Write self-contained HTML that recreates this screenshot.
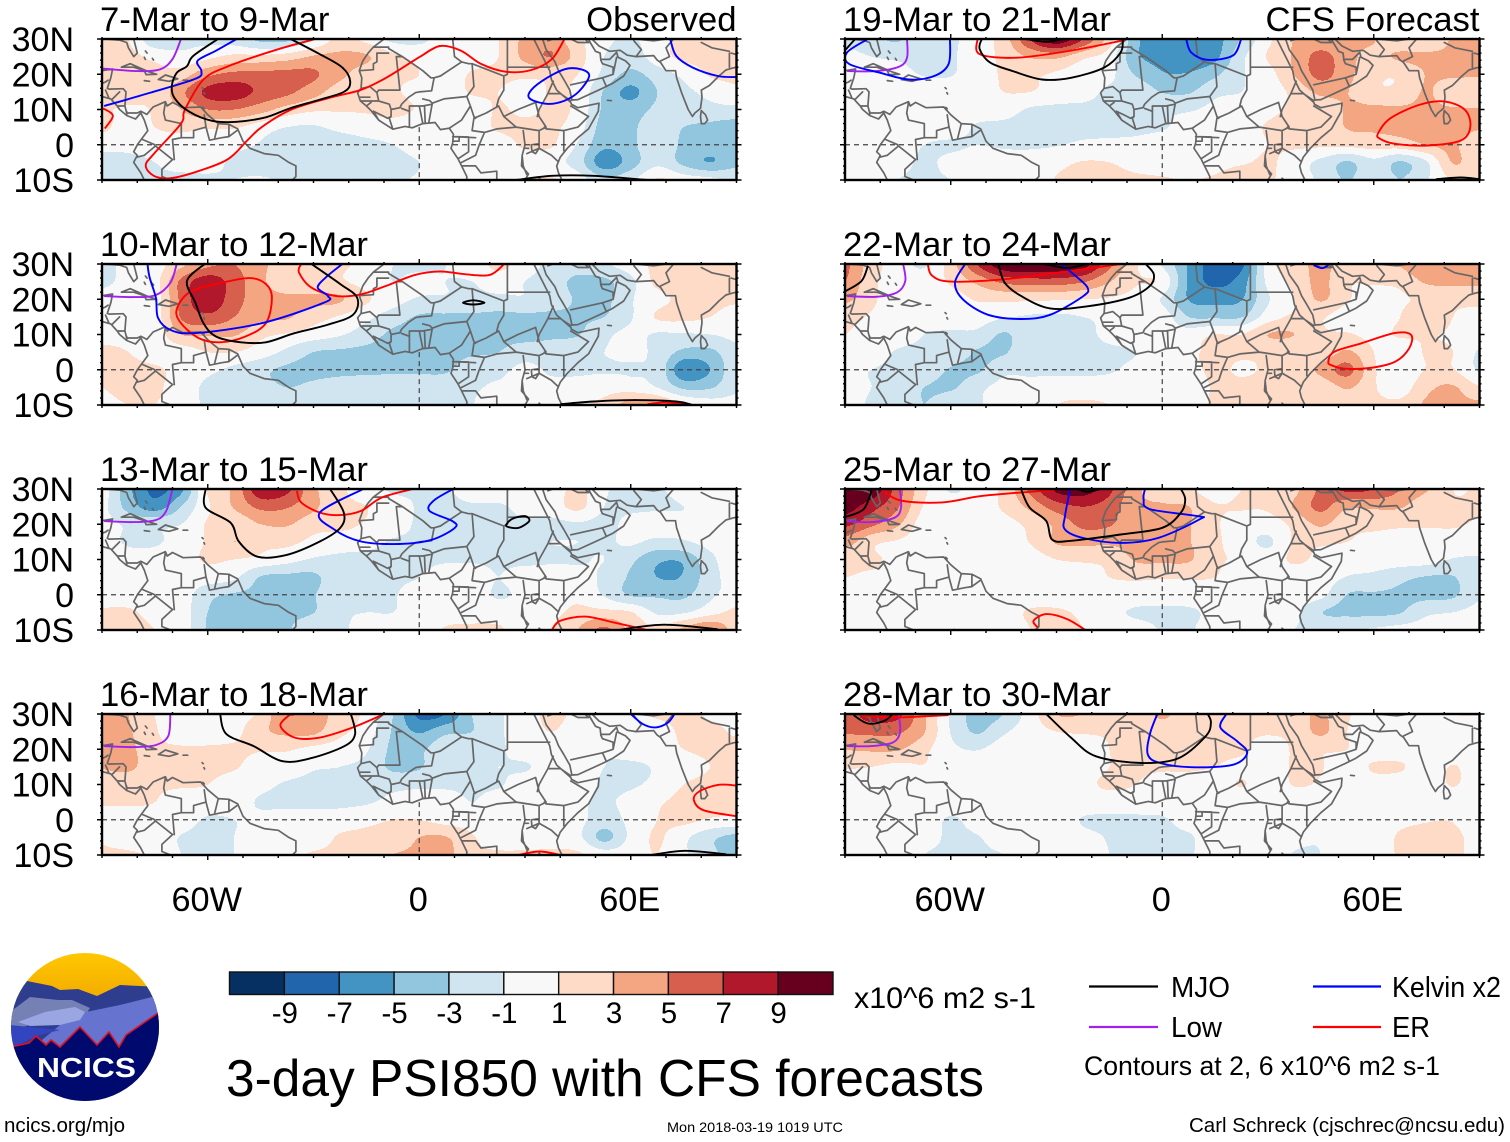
<!DOCTYPE html>
<html lang="en">
<head>
<meta charset="utf-8">
<title>3-day PSI850 with CFS forecasts</title>
<style>
html,body{margin:0;padding:0;background:#fff;}
svg{display:block;font-family:"Liberation Sans",Arial,sans-serif;}
</style>
</head>
<body>
<svg id="chart" xmlns="http://www.w3.org/2000/svg" width="1510" height="1142" viewBox="0 0 1510 1142">
  <rect x="0" y="0" width="1510" height="1142" fill="#fff"/>
  <g id="panels"></g>
  <g id="colorbar"></g>

  <text x="854" y="1008" font-size="29.5" textLength="182" lengthAdjust="spacingAndGlyphs">x10^6 m2 s-1</text>
  <text x="226" y="1096" font-size="51.5" textLength="758" lengthAdjust="spacingAndGlyphs">3-day PSI850 with CFS forecasts</text>

  <g>
    <line x1="1089" y1="986.5" x2="1158" y2="986.5" stroke="#000" stroke-width="2.2"/>
    <text x="1171" y="997" font-size="28.5" textLength="59" lengthAdjust="spacingAndGlyphs">MJO</text>
    <line x1="1313" y1="986.5" x2="1381" y2="986.5" stroke="#0000ff" stroke-width="2.2"/>
    <text x="1392" y="997" font-size="29" textLength="109" lengthAdjust="spacingAndGlyphs">Kelvin x2</text>
    <line x1="1089" y1="1027" x2="1158" y2="1027" stroke="#a020f0" stroke-width="2.2"/>
    <text x="1171" y="1037" font-size="28.5" textLength="51" lengthAdjust="spacingAndGlyphs">Low</text>
    <line x1="1313" y1="1027" x2="1381" y2="1027" stroke="#ff0000" stroke-width="2.2"/>
    <text x="1392" y="1037" font-size="28.5" textLength="38" lengthAdjust="spacingAndGlyphs">ER</text>
    <text x="1084" y="1075" font-size="26.5" textLength="356" lengthAdjust="spacingAndGlyphs">Contours at 2, 6 x10^6 m2 s-1</text>
  </g>

  <text x="4" y="1132" font-size="20.5" textLength="121" lengthAdjust="spacingAndGlyphs">ncics.org/mjo</text>
  <text x="667" y="1132" font-size="13.6" textLength="176" lengthAdjust="spacingAndGlyphs">Mon 2018-03-19 1019 UTC</text>
  <text x="1189" y="1132" font-size="20.5" textLength="316" lengthAdjust="spacingAndGlyphs">Carl Schreck (cjschrec@ncsu.edu)</text>

  <g>
    <defs>
      <clipPath id="logoClip"><ellipse cx="85" cy="1027" rx="74" ry="74"/></clipPath>
      <linearGradient id="logoSky" x1="0" y1="0" x2="0" y2="1"><stop offset="0" stop-color="#ffc800"/><stop offset="1" stop-color="#f2a900"/></linearGradient>
    </defs>
    <g clip-path="url(#logoClip)">
      <rect x="10" y="952" width="150" height="50" fill="url(#logoSky)"/>
      <polygon points="10,980 27,981 52,986 60,990 78,989 97,996 120,985 160,987 160,1102 10,1102" fill="#2f3d8e"/>
      <polygon points="10,1012 30,997 58,1000 72,1000 90,1008 86,1014 50,1020 10,1030" fill="#7581b4"/>
      <polygon points="86,1012 120,1005 152,997 160,1000 160,1050 60,1060 30,1050 60,1025" fill="#6674d0"/>
      <polygon points="10,1025 60,1030 36,1036 10,1050" fill="#3344c0"/>
      <polygon points="18,1022 45,1012 75,1007 85,1012 80,1020 60,1025 30,1026" fill="#9aa6e2"/>
      <polygon points="10,1047 29,1043 36,1036 46,1045 51,1040 60,1047 80,1027 97,1045 109,1032 119,1047 126,1035 158,1013 160,1013 160,1102 10,1102" fill="#000a6e"/>
      <polyline points="10,1047 29,1043 36,1036 46,1045 51,1040 60,1047 80,1027 97,1045 109,1032 119,1047 126,1035 158,1013" fill="none" stroke="#e01020" stroke-width="1.6"/>
    </g>
    <text x="37" y="1077" font-size="28" font-weight="bold" fill="#fff" textLength="99" lengthAdjust="spacingAndGlyphs">NCICS</text>
  </g>
</svg>

<script>
// ---------- Axis data ----------
const lonTickValues = [-60, 0, 60];
const lonTickLabels = ["60W", "0", "60E"];
const latTickValues = [30, 20, 10, 0, -10];
const latTickLabels = ["30N", "20N", "10N", "0", "10S"];
const colorLevels = [-9, -7, -5, -3, -1, 1, 3, 5, 7, 9];
const colorLevelLabels = ["-9", "-7", "-5", "-3", "-1", "1", "3", "5", "7", "9"];
const levelColors = ["#053061", "#2166ac", "#4393c3", "#92c5de", "#d1e5f0", "#f8f8f8", "#fddbc7", "#f4a582", "#d6604d", "#b2182b", "#67001f"];
const gridLons = [-90,-82.5,-75,-67.5,-60,-52.5,-45,-37.5,-30,-22.5,-15,-7.5,0,7.5,15,22.5,30,37.5,45,52.5,60,67.5,75,82.5,90];
const gridLats = [30,25,20,15,10,5,0,-5,-10];
const panelTitles = ["7-Mar to 9-Mar","10-Mar to 12-Mar","13-Mar to 15-Mar","16-Mar to 18-Mar","19-Mar to 21-Mar","22-Mar to 24-Mar","25-Mar to 27-Mar","28-Mar to 30-Mar"];

// ---------- PSI850 anomaly fields (x10^6 m2 s-1), rows = gridLats, cols = gridLons ----------
const psiMar07 = [
[1.5,1,-2.5,-1.5,-1.5,-2,-3.5,-3.5,-1,1.5,0.5,-1.5,-1.5,0,0,1,3.5,4,1.5,-0.5,-1.2,0,1.5,1.5,3],
[1.5,1.5,0.5,-0.5,0.5,1.5,1.5,2,3.2,3.5,3.2,1.5,0.5,0,0,1,3.5,5,2,-1,-2,0,1.5,1.5,2],
[3,1.5,1.5,2,4.5,5.5,5.5,5.6,5.3,3.5,2,1.2,1,0,1.2,1.5,1.5,1.5,1,-1.5,-3.5,-2,-0.5,1.2,1.5],
[1.5,1.5,1.5,4.5,7.5,8,6.5,5.5,3.8,2,1.5,1.2,0.5,-0.2,1.2,1,-0.2,1.2,0.5,-3.2,-5.5,-3,-1.5,-0.5,0.5],
[1.2,0.8,1.2,3,5,5,3.8,2.2,1.3,1.2,1.2,1.5,0.8,-0.2,-0.2,1.2,0.5,1.3,0.5,-3.4,-4,-2.5,-1.5,-1.5,-1.5],
[1.5,0,1,1.5,1.2,1.2,0,-1,-1.2,-0.5,0,0.2,0,0,0,1.3,1.5,1.3,0,-4,-3.5,-1.5,-3,-3.5,-4],
[-0.5,-0.5,0,0,0,-0.3,-1.2,-2,-2,-2,-1.5,-1,0,0,0,0,1.3,1.2,-1.2,-4.5,-3.5,-1.5,-3.4,-3.8,-4],
[-1.5,-1.5,-1,-0.3,0,-1.5,-2,-2.2,-2,-1.8,-1.5,-1.8,-1,0,0,0,0,-0.3,-2,-6.2,-4,-1.5,-3.5,-5,-3.5],
[-1.5,-1.5,-1.2,-1.5,-1.5,-1,-0.8,-1.3,-2,-1.5,-1.5,-1.2,-0.8,0,0,0,1,1.2,0,-2.5,-1.5,1.2,0,-0.5,-1.5]
];
const psiMar10 = [
[-1.5,-0.5,0,2.5,4.5,5,3.5,1.8,1.2,1.2,0.5,-1,-1.5,-1,0,1.5,0,-1.5,-2,-1.2,0,1.5,2,1.5,1.5],
[-1.5,-0.3,0.3,5.5,8.2,6,3.5,1.5,1.3,1.2,0.3,-1,-0.5,-1,-1,0,-1,-2,-3.5,-3.4,-1.5,1.5,1.5,1.5,1.5],
[0,0,0,5.5,8.5,5.8,4,3.5,3.4,3.2,1.3,-0.2,-1.2,-1.2,-1.5,-1.5,-1.2,-2,-3.2,-3.5,-1.2,0.3,1.5,1.5,1.3],
[0,-0.3,0,5.2,6.5,5,3.5,3.2,1.8,0.8,-0.5,-2,-3.2,-3.3,-3.4,-3.5,-3.4,-3.4,-3.2,-3,-1.2,1.2,1.5,1,0],
[0.5,0.3,-0.2,3,3.2,3.2,1.5,0.8,0,-0.8,-2,-3.4,-3.5,-3.3,-4.8,-3.5,-3.6,-3.3,-3.1,-1.5,-0.5,-1.2,-1.2,-1,-0.5],
[1.3,1,0,0,1,1,0,-1.5,-3,-3.3,-3.5,-3.6,-3.6,-3.6,-3.4,-3,-2,-2,-1.5,-1,-0.5,-1.5,-3.5,-3.5,-1.5],
[1.2,1.4,1.3,0.3,-0.5,-1.5,-2.5,-3.4,-3.6,-3.6,-3.5,-3.4,-3.4,-3.3,-1.8,-1.5,-0.5,-1.3,-1.3,-1.2,-1.2,-1.5,-6.5,-5,-1.5],
[1,1.3,1.2,0.3,-1.5,-2,-2.3,-3,-2.5,-1.8,-1.5,-1.5,-1.5,-1.5,-1.3,-0.6,-0.6,-0.5,-0.3,0.2,0,-1,-3.4,-3.2,-1.4],
[0.8,1,1,0.5,-1.5,-1.5,-1.5,-1.5,-1.5,-1.3,-1.2,-1.2,-1.3,-1.2,-1.1,1,0.5,-0.2,0.8,1.5,4,3.5,1,0,-0.2]
];
const psiMar13 = [
[0,-4.5,-7.5,-5.5,1.2,3.5,8.5,7.5,3.5,1.4,0,-1.3,-1.2,-1.2,0,0,0,0,1.5,-0.8,-1.2,-1.2,-0.5,-1,-0.5],
[-0.5,-3.8,-6,-3,0.7,3.2,5.5,5.2,3.4,1.5,1,0,-1.2,-1.5,-1.2,-1.2,-0.5,0,1.5,-1,-1.3,-1.3,-1,-0.8,-0.5],
[-0.3,-1.3,-1.4,-1,1.2,1.5,3,3.2,1.7,1.5,0.8,0,-1.3,-1.5,-1.3,-1.4,-1.2,-1.5,-1.2,-1.5,-0.5,0,-0.8,-0.8,-1],
[0,-1.3,-1.3,0,1.2,3,1.5,1.5,0.5,0,-0.3,-1.2,-1.3,-1.2,-1.3,-1.3,-1.3,-1,-1,-1.3,-0.7,-1.5,-1.2,-0.5,-0.5],
[0.3,0,0,0.3,1.2,1,0.5,-0.3,-1.2,-1.4,-1.5,-1.5,-1.4,-1.2,-1.2,-1.3,-1.5,-1.2,-1.2,-1,-2.5,-4.6,-4.6,-1.5,0],
[0,0,0,0,0,-0.6,-3.1,-3.4,-3.4,-1.5,-1.3,-1.2,-1,0,0,-1,0,-0.2,-0.3,-1.4,-3.3,-5,-4.8,-1.8,-0.2],
[0.3,0.3,0,0,-2.4,-3.2,-3.3,-3.3,-3.1,-1.3,-1.2,-1.1,-0.4,0,0,-1.2,-0.5,0,0.5,-1.2,-3.2,-3.3,-3.4,-1.4,-0.2],
[1.2,1.2,0.5,0,-3,-3.5,-3.5,-3.4,-3.05,-1.3,-1,-1,-0.2,0,0,0,0,0.5,1.5,1.6,1.1,-1.3,-1.2,0.3,1.5],
[1.4,1.5,1,0.2,-3.2,-3.5,-3.5,-3.2,-1.5,-1.2,-0.5,0,0,1.2,1.5,1.3,0,1,3,5.5,2.5,1.4,3.5,5.2,2]
];
const psiMar16 = [
[3.5,3,1,0,-1,0,1.5,5,4,2.2,0.5,-3,-7.5,-7,-3,-1.3,0,1.5,0.5,0,0.3,1.3,1.5,0.8,0.5],
[3.5,3.2,1.2,0,0,0.4,2.5,3.5,3.4,1.5,0,-3.2,-5.2,-3.5,-3,-1.3,0,1,0,0,0,0,1.4,1.4,0.8],
[3.6,3.5,1.5,1.2,1.2,1.3,1.2,1.2,0.5,0,-0.8,-3.4,-3.4,-1.5,-1.3,-1.3,0,0,0,-0.8,-0.3,0,1,1.4,1.5],
[3.2,3.5,1.5,1.3,1.4,1.2,0,0,-0.8,-1,-1.5,-3.4,-3.2,-1.3,-1.4,-1,-1.2,0,-0.3,-1,-1.3,-0.8,0,1,1.4],
[1.2,1.3,1.2,1.2,1,0,-0.5,-1.2,-1.4,-1.4,-1.4,-1.5,-1.4,-1.3,-1.3,-1.2,0,0,-0.3,-1.2,-1.2,-0.5,1,1.5,1.5],
[1.2,1.2,1,0,0,-0.2,-1.2,-1.5,-1.5,-1.4,-1.2,-0.5,0,0,-1,0,0,0,-0.7,-1.2,-0.5,0.7,1.5,1.6,1.5],
[0,0,0.2,-0.2,-1.2,-1,-0.5,0,0,0,0.6,1,1,0.3,0,0,0,0,-0.5,-1.8,-0.5,1,1.5,0.8,0.5],
[0.8,0,0,-1.1,-1.4,-1,0,0,0,1.2,1.3,1.4,3,3.1,1.2,0,0,0,-0.5,-3.6,-0.5,1.2,-0.5,-2.5,-3.6],
[1.2,1.3,0.5,-1,-1.2,-1,0,0.5,1.2,1.3,1.4,3,3.3,3.5,1.5,1.3,1.3,1.4,1.3,0,0.2,1,-0.7,-2.5,-3.8]
];
const psiMar19 = [
[-1.5,-2.5,-3.2,-1.5,-1.3,0,2,7,10.5,7,2,-4.5,-5.5,-6.5,-5.8,-2.8,0.5,3.1,3.5,3.3,3.1,1.5,1.5,3.2,3.2],
[-0.3,-1,-1.3,-1.4,-1.2,0,1.5,3.2,3.5,1.5,0,-4.6,-5.5,-6.5,-5.5,-1.5,1.2,3.3,5.7,3.6,2.5,3.3,3.4,3.2,3.1],
[0,0,-0.5,-1.1,-1.1,0,1.2,1.4,0.7,0,-0.5,-3.2,-4.8,-4.8,-3.4,-1.2,0.2,3.05,5.6,3.6,1.5,1.3,3.1,3.3,3.2],
[0,0,0,0,0,0,1,1,0.2,-0.3,-1.3,-1.4,-3.1,-3.2,-1.5,-1,0,1.5,3.5,3.05,1.4,1.5,3.2,1.5,1.5],
[0,0,0,0,0,0,-0.2,-1.2,-1.4,-1.4,-1.4,-1.4,-1.3,-1.2,-0.5,0,0.5,1.4,1.5,3.2,3.4,3.3,3.4,3.2,3.1],
[0,0,0,0,0,-1.2,-1.4,-1.5,-1.5,-1.4,-1.4,-1.4,-1.2,-0.2,0,0,1.2,1.5,1.5,3.1,3.3,3.5,3.5,3.6,3.2],
[0,0,0,-1,-1.3,-1,-1.2,-1.3,-1.1,-0.7,-0.6,-0.5,0,0,0,0,1,1.3,1.3,1.5,1.8,2,3,3.3,1.5],
[0,0,-0.3,-1.3,-0.5,0,-0.2,0,0.5,1.1,1,0.4,0,0,0,0.7,1.3,0,-1.5,-3.2,-1.5,-3.2,-1.2,3.1,1.4],
[-0.8,0,-1,-1.3,-1,-0.5,0,0,1.1,1.4,1.4,1.3,1.2,0.9,1.4,3,1.4,0,-1.4,-3.2,-1.4,-3,-1.2,1.2,1.3]
];
const psiMar22 = [
[5.5,2,0,-1.2,2,7,10.5,11,11,10,5.5,1.2,-1.2,-5.2,-8,-7.5,0,2,3.5,2,2.5,3.2,5,3.5,3.5],
[5,1.5,0.3,0,1.3,3.5,5.5,6,6,5.2,3.1,1.2,0.5,-5.2,-7.5,-6,-0.5,1.5,3.5,1.2,1.3,1.5,3.3,3.4,3.3],
[3.5,1.4,0,0,0,1.2,1.4,1.4,1.2,1,0.8,0.3,-1.2,-5.1,-5.6,-5.1,-1.2,1,3.2,1.2,0,0.7,1.4,1.5,1.5],
[1.5,0.8,0,0,0,0,-0.8,-1.2,-1.3,-1,-0.5,0,0,-3,-3.3,-3.1,0,1.3,1.2,0,0,1,3,1,0.5],
[1,0.5,0,-1,-1.3,-1.5,-3.2,-1.6,-1.5,-1.4,-0.6,0,0,0,1,1,3,3,1.3,1.2,0.5,1.2,1.2,0.7,0],
[0.7,0,-1.2,-1.3,-1.5,-3.2,-3.2,-1.5,-1.4,-1.3,-1.3,-1,0,0.7,1.3,1.2,1.3,1.2,1.5,3.3,1,-0.3,1.2,1,-1.2],
[-0.5,-1,-1.3,-1.4,-3.2,-3.3,-1.5,-1.4,-1.4,-1.4,-1.2,-0.5,0,0.5,1.3,0.8,1.2,1.4,3.5,5.6,1.3,-0.5,1.1,1.1,-1.2],
[-0.3,-1,-1.3,-3,-3.3,-1.5,-0.5,-0.3,0,0,0,0,0,0,1.2,1.4,1.4,1.2,1.5,3.2,1.2,0,2.5,3.2,1.2],
[-0.3,-1.2,-1.3,-3,-1.2,-1.1,-0.5,0,1,1.3,1,0.3,0,0,1.3,1.4,1.4,1,1.3,1.5,1.4,1.5,3.3,3.4,3.4]
];
const psiMar25 = [
[11,10.5,6,1.5,-1.2,0,1.5,5.5,9.5,10,7.5,3.5,2,1.2,0,1,1.2,2.5,5.5,7.5,7,5,3.2,1,1.2],
[10,7.8,5.2,0.8,0,0,1.3,3.5,6,7,6,3.5,3.2,3,1.2,1.2,1.3,3.2,5.5,3.3,3.4,3.2,1.5,1.2,1.2],
[7.5,5.5,3.3,0,0,0,0.3,1.5,3.5,5.5,5.2,3.5,3.3,3.1,1.3,0,0,1.5,3.3,1.5,1.5,1.3,1.2,1.2,0.8],
[4,1.5,0.8,0,0,0,0,1.1,3.2,3.5,3.4,3.5,3.3,3.1,1.4,0,-1.3,1.2,1.3,1,0.5,0.3,0,0,0],
[1.3,1.2,0.6,0,0,0,0,0,1,1.3,1.5,3.2,3.3,3.2,1.3,0.8,0,1.3,0.5,0,0,0,-0.2,-1.1,-1.2],
[1,0.8,0.8,0,0,0,0,0,0,0,1,1.3,1.2,1.2,1,0,0,0,0,-1.1,-1.5,-2.5,-3.1,-3.1,-1.3],
[0,0,0,0,0,0,0,0,0,0,0,0,-0.2,0,0,0,0,0,-0.5,-3.05,-3.2,-3.3,-3.5,-3.3,-1.2],
[0,0,0,0,0.6,0.8,0.3,1.2,1.4,0.5,-0.5,-1.2,-1.3,-1.3,-0.5,0,0,-0.5,-2.9,-3.4,-3.4,-3.1,-1.4,-1,-0.3],
[0,0,0,0,1,0.6,0,1,3,1,0,-0.3,-1.1,-1.2,0,0,0,-1,-1.2,-1.1,-0.8,-0.3,0,0.3,1.1]
];
const psiMar28 = [
[6,8,7.5,3.2,-1.3,-3.7,-3,0,3,3,2,1.2,3.5,1.3,1.2,1.2,1.2,2,3.3,1.2,0.3,0,0.5,1,1.1],
[5.2,5.5,5.3,3.1,-1.1,-3.2,-1.3,0,1,1.2,1.2,1.3,1.4,1.3,1.3,1.3,1.2,1.5,3.4,1,0,0,0,0,0],
[3.1,3.3,3.2,1.5,-0.5,-1.1,0,0,0,0,1,1.2,1.4,1.4,1.3,1.3,0,1.2,1.2,1,0,0,0,0,1],
[1.2,1,0.5,0.9,0,0,0,0,0,0,1,1.3,1.3,1.3,1,0.5,0,1.2,1.1,0,1.2,1.2,0,1.1,0],
[0,0,0,0,0,0,0,0,0,0.5,1.3,1,0,0,0,1.1,0,1.1,0.8,0,0.2,0,0,1.1,0],
[1,0,0,0,0,0,0,0,0,0,0,0,0,0,0,0,0,0,0,0,0,0,0,0,0],
[0,0,0,0,-1.2,-0.3,0,0,0,-1.1,-1.3,-1.3,-1.2,-0.3,0,0,0,0,0,0,0,0.6,0.9,0.9,0],
[0,0,0,-0.5,-1.2,-1.1,-0.2,0,0,-0.5,-1.1,-1.2,-1.3,-1.2,0,0,0,-0.5,-0.8,0,0,1.2,1.3,1.3,0.5],
[-1,0,0,-1,-1.1,-1.2,-1,0,0.8,0,-1,-1.1,-1.3,-1.2,0,0,0,-1.1,-1,0,0,1.2,1.3,1.3,0.5]
];
const psiFields = [psiMar07, psiMar10, psiMar13, psiMar16, psiMar19, psiMar22, psiMar25, psiMar28];

// ---------- Filtered-wave contours as [lon, lat] ----------
const mjoContours = [
 [[[-57.1,30],[-64.1,25.2],[-65.9,22.3],[-68.8,20.4],[-70.2,16.6],[-69.4,13.2],[-65.3,9.4],[-58.8,6.8],[-51.8,6.5],[-43.5,7.8],[-36.5,10.4],[-28.2,12.8],[-21.2,15.1],[-19.6,18],[-21.8,21.9],[-28.2,25.7],[-36.5,30]],[[27.6,-10],[37.6,-8.8],[49.4,-8.8],[64.7,-10]]],
 [[[-60.9,30],[-65.9,25.2],[-63.5,19],[-61.2,13.2],[-57.6,9.4],[-50.6,7.8],[-43.5,7.8],[-35.3,10.4],[-25.9,12.8],[-18.8,15.6],[-17.6,20.4],[-22.4,24.3],[-30.6,30]],[[12.4,19],[15.3,19.7],[18.5,19],[15.3,18.5],[12.4,19]],[[40,-9.8],[49.4,-9],[61.2,-8.6],[72.9,-9],[77.6,-10]]],
 [[[-60.6,30],[-60.6,24.7],[-53.5,20.4],[-51.2,15.1],[-45.9,10.8],[-37.6,11.3],[-28.2,15.1],[-22.4,19],[-21.4,23.3],[-25.3,30]],[[24.7,19.9],[26.5,21.6],[30,22.3],[31.2,20.9],[28.2,19],[25.3,19.2],[24.7,19.9]],[[56.5,-10],[69.4,-8.5],[84.7,-9.8]]],
 [[[-56.5,30],[-54.7,24.3],[-47,20.9],[-38.8,16.6],[-30.6,17.5],[-21.2,20.9],[-18.2,24.3],[-19.4,30]],[[65.9,-10],[75.3,-8.8],[87.1,-9.8]]],
 [[[-89.8,27],[-87.1,30]],[[-51.2,30],[-51.8,27.1],[-48.8,23.3],[-42.4,20.9],[-34.1,18.5],[-25.9,19],[-16.5,21.9],[-11.8,26.2],[-11.2,30]],[[-38.8,30],[-32.9,29.2],[-28.2,30]],[[77.6,-9.8],[84.7,-9.3],[90,-9.8]]],
 [[[-83.5,29.5],[-85.3,25.2],[-89.8,22.3]],[[-46.5,30],[-44.7,24.7],[-40,20.9],[-31.8,17.4],[-21.2,18],[-9.4,20.4],[-3.5,23.8],[-2.4,27.1],[-4.7,30]],[[-33.5,30],[-27.1,28.9],[-21.2,30]]],
 [[[-82.4,29.7],[-84.7,24.3],[-89.8,22.1]],[[-40,29.7],[-37.6,24.7],[-32.9,20.9],[-31.2,15.6],[-25.9,15.3],[-11.8,17.1],[0,19],[5.3,23.3],[6.5,27.1],[5.3,30]],[[-24.1,30],[-21.2,29.2],[-17.6,30]]],
 [[[-87.6,29.7],[-83.5,27.3],[-78.8,28.1],[-76.5,30]],[[-32.9,30],[-25.9,23.3],[-18.8,18],[-5.9,16.1],[4.7,17.5],[12.4,23.8],[13.8,27.6],[12.9,30]]]
];
const kelvinContours = [
 [[[-51.8,30],[-57.6,26.7],[-62.9,23.8],[-61.8,20.9],[-63.5,18.7],[-76.5,14.7],[-89.4,11]],[[31.2,14.7],[34.7,18],[41.2,21.4],[45.9,21.4],[48.2,19.5],[45.3,15.1],[41.2,12.5],[36.5,11.6],[31.8,12.8],[31.2,14.7]],[[71.2,30],[72.9,25.2],[77.6,21.9],[84.7,19.5],[90,19.2]]],
 [[[-77.1,30],[-76.5,26.2],[-74.7,20.4],[-74.1,14.7],[-70.6,11.3],[-63.5,10.4],[-44.7,13.2],[-27.1,19],[-25.9,20.9],[-28.8,23.3],[-26.5,26.2],[-21.8,30]]],
 [[[-15.9,30],[-28.2,23.3],[-24.1,18.5],[-16.5,15.1],[-5.9,14.4],[3.5,15.6],[10.1,19],[9.4,20.9],[2.9,23.8],[4.1,26.7],[9.6,30]]],
 [[[60,30],[63.5,27.1],[67.1,26.2],[70.6,27.6],[72.4,30]]],
 [[[-83.5,30],[-89.4,26.2],[-88.8,22.9],[-80,20.4],[-71.8,18.5],[-64.7,19.5],[-60.6,22.9],[-60.2,30]],[[6.8,30],[8.2,26.2],[12.9,24.1],[20,25.3],[22.4,30]]],
 [[[-55.9,30],[-58.8,24.7],[-56.5,19.9],[-49.4,15.6],[-40,14.4],[-31.8,15.6],[-22.4,20.9],[-21.2,23.3],[-24.7,26.7],[-28.8,30]],[[42.9,29.7],[45.3,28.8],[47.1,29.7]]],
 [[[-26.1,30],[-27.6,22.3],[-27.6,18.5],[-22.4,16.1],[-11.8,14.7],[-1.2,16.1],[10.6,21.4],[10,22.3],[-3.5,24.3],[-5.3,27.1],[-4.9,30]]],
 [[[-1.4,30],[-3.5,24.3],[-4.1,18.5],[-0.6,16.1],[8.2,14.9],[20,15.6],[24.1,19],[21.2,22.3],[16.5,26.2],[18.2,30]]]
];
const lowContours = [
 [[[-67.6,30],[-70,24.3],[-73.5,21.4],[-80,20.9],[-89.8,21.6]]],
 [[[-68.8,30],[-70.6,24.7],[-74.7,21.2],[-81.2,20.6],[-89.4,20.9]]],
 [[[-70,30],[-71.8,23.8],[-74.7,21.2],[-81.2,20.6],[-89.4,20.9]]],
 [[[-70.6,30],[-71.2,23.8],[-74.7,21.2],[-81.2,20.6],[-89.4,20.9]]],
 [[[-72.4,30],[-72.4,24.7],[-74.7,22.1],[-81.2,20.9],[-89.4,20.9]]],
 [[[-73.5,30],[-72.9,25.2],[-75.3,21.9],[-81.2,20.7],[-89.4,20.9]]],
 [[[-74.4,29.7],[-74.1,24.7],[-75.9,21.9],[-82.4,20.6],[-89.4,20.9]]],
 [[[-74.7,29.7],[-74.4,24.7],[-76.5,21.9],[-82.4,20.9],[-89.4,20.9]]]
];
const erContours = [
 [[[-29.4,30],[-40,27.1],[-54.1,22.3],[-61.2,18.5],[-66.5,9.9],[-67.6,6],[-75.3,-2.6],[-77.6,-5.9],[-75.3,-8.8],[-70.6,-9.5],[-62.4,-7.4],[-54.1,-4],[-48.8,1.2],[-44.7,5],[-36.5,9.9],[-25.9,13.2],[-16.5,15.6],[-9.4,19],[-1.2,24.1],[0.6,25.2],[5.9,28],[11.8,26.7],[17.6,22.9],[24.7,20.7],[31.8,21.2],[37.6,24.3],[41.2,30]],[[-89.7,10.3],[-87.3,8.9],[-87.1,7.5],[-89.2,4.6]]],
 [[[-68.8,17.1],[-65.3,21.9],[-57.6,24.3],[-48.2,26],[-43.5,24.3],[-41.8,20.4],[-43.5,13.2],[-49.4,9.4],[-56.5,7.8],[-62.4,8.9],[-67.6,13.2],[-68.8,17.1]],[[-33.5,30],[-34.1,27.6],[-30.6,23.3],[-23.5,20.9],[-16.5,21.4],[-9.4,23.8],[-1.2,26.9],[5.9,27.9],[12.9,27.1],[20,26.9],[24.1,30]],[[64.7,-9.8],[69.4,-9.3],[75.3,-9.8]]],
 [[[-34.7,29.5],[-33.5,26.2],[-28.2,23.3],[-22.4,22.6],[-16.5,23.8],[-10.6,27.6],[-1.8,30]],[[37.6,-10],[40,-7.4],[47.1,-6.2],[55.3,-7.9],[64.7,-10]]],
 [[[-10.6,29.7],[-18.8,26.2],[-28.2,23.3],[-35.3,23.3],[-39.4,26.7],[-36.5,30]],[[90,9.7],[84.7,9.9],[79.4,8],[77.9,5.6],[80.6,2.7],[90,1]],[[28.2,-10],[34.1,-9],[40,-10]]],
 [[[-52.4,30],[-51.8,25.7],[-41.2,24.7],[-25.9,26.7],[-10.6,29.7]],[[61.2,3.2],[64.7,7.5],[72.9,11.3],[80,12.3],[85.9,9.9],[87.4,5.1],[84.7,1.2],[75.3,-0.2],[65.9,0.3],[61.8,1.7],[61.2,3.2]]],
 [[[-66.5,30],[-65.3,26.7],[-60,25],[-44.7,25.7],[-27.1,27.9],[-11.8,30]],[[47.1,2.2],[48.8,5.1],[56.5,7.5],[65.9,10.4],[70.6,9.9],[70,6],[65.9,2.2],[58.8,0.5],[51.8,0.3],[48.2,1.2],[47.1,2.2]]],
 [[[-79.4,29.7],[-74.1,26.7],[-62.4,26.2],[-50.6,28.1],[-30.6,29.7]],[[-35.3,-9.3],[-36.5,-7.4],[-32.9,-5.5],[-27,-6.9],[-21.8,-10]]],
 [[[-85.9,29.7],[-76.5,29],[-60.6,29.7]]]
];

// ---------- Map outlines as [lon, lat] ----------
const coastlines = [
 [[-89,30],[-85,29.7],[-83,29],[-82.5,27.5],[-81,25],[-80,26],[-81,30]],
 [[-90,21],[-87,21.5],[-87.5,19],[-88.5,16],[-88,15.8],[-84,15.9],[-83.2,15],[-83.5,11],[-83,9],[-80,9],[-79,9.5],[-77.3,8.6],[-75.5,10.7],[-72,12.2],[-71.5,11],[-70,12],[-67,10.5],[-62,10.7],[-60,8.5],[-57,6],[-54,5.8],[-51.5,4.5],[-50,1],[-48,-1],[-44,-2.5],[-40,-3],[-37,-5],[-35,-6],[-35,-9],[-36,-10]],
 [[-90,13.7],[-87.5,13],[-85.7,11],[-85,10],[-83,8.3],[-80.5,7.3],[-79,9],[-78,7],[-77,4],[-78.5,2],[-80,0],[-81,-2],[-80,-3],[-81,-5],[-79,-8],[-78,-10]],
 [[-84.5,22],[-82,23],[-77,20.8],[-74.5,20],[-77.5,19.9],[-78,21],[-81,22],[-84.5,22]],
 [[-74,18.5],[-72,19.8],[-68.5,18.7],[-71,18],[-74,18.5]],
 [[-78,18.2],[-76.5,18]],
 [[-67,18.3],[-65.7,18.3]],
 [[-77.7,26.6],[-77.2,26]],[[-78,24.8],[-77.7,24.2]],[[-75.7,24.5],[-75.4,24]],
 [[-61.6,16.2],[-61.3,15.9]],[[-61.1,14.8],[-60.9,14.4]],[[-61.4,10.6],[-61,10.2]],
 [[-10,30],[-13,27.7],[-14.5,26],[-16,23.8],[-17,21],[-16.3,19],[-16.5,16],[-17.5,14.7],[-16.7,12.4],[-15,11],[-13.5,9.5],[-11.5,7],[-7.5,4.4],[-4,5.2],[-2,4.8],[1,6],[4.5,6.3],[6,4.3],[8.5,4.7],[9.7,3],[9.5,0.5],[9,-1],[11,-4],[12,-6],[13.5,-9],[13.5,-10]],
 [[32.5,30],[34,27],[35.5,24],[37,21],[37.5,18.5],[39,15.5],[43,12],[43.2,11.5],[45,10.5],[51,11.8],[50.8,9.5],[48,4.5],[45,2],[42,-1],[40,-3.5],[39,-6],[39.5,-8],[40.5,-10]],
 [[35,30],[36,27],[38.5,23.5],[39.5,21],[41,18.5],[42.7,15.5],[43.3,12.7],[45,12.8],[52,16],[55,17.5],[58,19.5],[59.8,22.5],[58.5,23.8],[56.4,24.8],[56,26.2],[54,24.2],[51.5,24.2],[51.3,26],[50,26.5],[48.5,29],[48,30]],
 [[49,30],[51,28],[54,26.5],[57,26.8],[59,25.4],[61.5,25],[66.5,25.3],[67.5,24],[68.5,23.3],[70,21],[72,21],[72.7,21],[73,19],[74.5,14.5],[76.3,10],[77.5,8],[78.2,9],[79.8,10.3],[80.2,13.5],[80,15.5],[82.3,16.8],[85,19.5],[87,21.2],[89,21.8],[90,22]],
 [[80,9.7],[81.2,8.5],[81.8,7],[81,6],[80,6],[79.8,8],[80,9.7]],
 [[53.4,12.6],[54.5,12.5]],
 [[31.8,0],[34,0.3],[34,-1],[33,-2.5],[32,-2],[31.8,0]],
 [[29.2,-3.3],[29.5,-6],[30.5,-8.5]],
 [[34,-9.5],[34.5,-10]]
];
const countryBorders = [
 [[-92,14.5],[-91,17],[-89,17.8],[-88.3,18.3]],[[-89,15.5],[-88,13.2]],[[-85,15],[-87,13]],[[-85.7,11],[-83.7,11]],[[-83,9.5],[-83,8.3]],
 [[-72,12],[-72.5,9],[-72,7],[-67.5,6],[-67.5,2],[-70,1.5],[-69.5,-4.2]],
 [[-80,-3.5],[-78,-3],[-75,-0.5]],[[-78.5,1.5],[-75,0],[-75,-0.2],[-70,-4.2],[-73,-7],[-73,-9],[-70.5,-10]],
 [[-67.5,2],[-64,2],[-64,4],[-60.5,5],[-61,8.5]],[[-60.5,5],[-59.5,1.3],[-56,2],[-54,2.3],[-51.7,4]],[[-57,6],[-58,2]],[[-54,5.8],[-54,2.3]],
 [[-13,27.7],[-8.7,27.7],[-8.7,27.3],[-4.8,25],[-6.5,25],[-5.5,15.5],[-11.5,15.5],[-12,14.8]],
 [[-8.7,26],[-12,26],[-12,23.5],[-13,23],[-13,21.3],[-17,21]],
 [[-16.3,16],[-14,16.5],[-12,14.8],[-11.5,12.4],[-16.7,12.4]],[[-16.7,13.5],[-14,13.5]],[[-13.7,12],[-15,11]],
 [[-11.5,12.4],[-8.5,11.5],[-8,10],[-8,8],[-9,7.5],[-10.5,8.3],[-13,9.5]],[[-8,8],[-8.5,7.5],[-7.5,4.4]],[[-13,9.5],[-11.5,7]],
 [[-8,10],[-5.5,10.5],[-5,11.5],[-3,13.5],[-1,14.8],[0,15],[3.5,15.3],[4.2,19],[3.3,19],[1,21],[-4.8,25]],
 [[4.2,19],[6,19.5],[12,23.5],[14,23],[15,23],[24,19.5],[25,20],[25,30]],[[9.5,30],[10,25],[12,23.5]],[[25,22],[37,22]],
 [[24,19.5],[24,15.5],[22.5,13],[22,11]],[[15,23],[15.5,16.5],[13.5,13.7],[7,13],[3.7,11.8],[3,12.5],[1,13]],
 [[-2.8,11],[1,11],[3.7,11.5]],[[-2.8,11],[-2.8,5]],[[0,11],[1,6]],[[-5,10.3],[-2.8,9.5]],[[1.5,11],[1.7,6.2]],[[3.7,11.8],[2.7,6.3]],
 [[13.5,13.7],[14.5,11],[12,7],[9,5],[8.5,4.7]],[[14.5,11],[15.5,8],[16,7.5]],
 [[15.5,7.5],[15,4],[18.5,3.5],[22,4.5],[27.5,5],[24,8],[22.5,11],[19,9],[15.5,7.5]],
 [[24,8],[27.5,5],[34,4],[36,5],[34,8],[33,12],[28,10],[24,8]],[[38,18],[36.5,14.5],[34,10],[33.5,8]],[[36.5,14.5],[40,14.5],[43,12.5]],
 [[43,11],[48,8],[45,5],[41,4],[36,4.5],[35.5,5]],[[41,4],[41,-1.7]],[[34,-1],[37.5,-3],[39.3,-4.7]],[[34,4],[34,0.5]],
 [[18.5,3.5],[17,0],[16,-3],[12,-5]],[[29.5,4],[30,0],[29.2,-3],[29,-6],[31,-8.3],[30,-10]],[[31,-1],[30,-1]],[[30.5,-2.5],[34,-1]],
 [[9.5,2.3],[14,2.2],[14,-2],[11,-4]],[[9.8,2.3],[16,2]],[[9.5,1],[11.3,1],[11.3,2.2]],
 [[12,-6],[16,-6],[17.5,-8],[22,-7.5],[22,-10]],
 [[43,17],[52,19],[55,20],[55,22],[52,23],[51.5,24]],[[52,19],[53,16.7]],[[55,20],[56,24.8]],
 [[47,30],[48,29],[45,29],[41,31]],[[36.5,29.5],[38,30]],
 [[61,30],[60.9,29.5],[63,27],[61.5,25]],[[61,30],[66.5,29.5],[70,30]],
 [[73,31],[70,27.5],[71,25],[68.5,23.8]],[[80,29],[83,27.5],[88,26.5]],[[88,26],[88,22]],[[88.5,26],[92,25]]
];

// ---------- Layout & scales ----------
const SVGNS = "http://www.w3.org/2000/svg";
const PANEL_W = 634.5, PANEL_H = 141, DEG = 3.525;
const panelLefts = [102, 845];
const panelTops = [39, 264, 489, 714];
function xScale(lon, left) { return left + (lon + 90) * DEG; }
function yScale(lat, top) { return top + (30 - lat) * DEG; }
function mk(tag, attrs) {
  const el = document.createElementNS(SVGNS, tag);
  for (const k in attrs) el.setAttribute(k, attrs[k]);
  return el;
}
function cubic(p0, p1, p2, p3, t) {
  return p1 + 0.5 * t * (p2 - p0 + t * (2 * p0 - 5 * p1 + 4 * p2 - p3 + t * (3 * (p1 - p2) + p3 - p0)));
}
function sampleField(field, lon, lat) {
  const nx = gridLons.length, ny = gridLats.length;
  const fx = (lon - gridLons[0]) / (gridLons[1] - gridLons[0]);
  const fy = (gridLats[0] - lat) / (gridLats[0] - gridLats[1]);
  const ix = Math.min(nx - 2, Math.max(0, Math.floor(fx)));
  const iy = Math.min(ny - 2, Math.max(0, Math.floor(fy)));
  const tx = fx - ix, ty = fy - iy;
  const vals = [];
  for (let j = iy - 1; j <= iy + 2; j++) {
    const row = field[Math.min(ny - 1, Math.max(0, j))];
    vals.push(cubic(row[Math.max(0, ix - 1)], row[ix], row[ix + 1], row[Math.min(nx - 1, ix + 2)], tx));
  }
  return cubic(vals[0], vals[1], vals[2], vals[3], ty);
}
function levelIndex(v) {
  let i = 0;
  while (i < colorLevels.length && v >= colorLevels[i]) i++;
  return i;
}
function splinePath(pts, left, top) {
  const closed = pts.length > 3 && pts[0][0] === pts[pts.length - 1][0] && pts[0][1] === pts[pts.length - 1][1];
  const p = pts.map(function (q) { return [xScale(q[0], left), yScale(q[1], top)]; });
  const n = p.length;
  let d = "M" + p[0][0].toFixed(1) + " " + p[0][1].toFixed(1);
  for (let i = 0; i < n - 1; i++) {
    const a = closed ? p[(i - 1 + n - 1) % (n - 1)] : p[Math.max(0, i - 1)];
    const b = p[i], c = p[i + 1];
    const e = closed ? p[(i + 2) % (n - 1)] : p[Math.min(n - 1, i + 2)];
    const c1x = b[0] + (c[0] - a[0]) / 6, c1y = b[1] + (c[1] - a[1]) / 6;
    const c2x = c[0] - (e[0] - b[0]) / 6, c2y = c[1] - (e[1] - b[1]) / 6;
    d += "C" + c1x.toFixed(1) + " " + c1y.toFixed(1) + " " + c2x.toFixed(1) + " " + c2y.toFixed(1) + " " + c[0].toFixed(1) + " " + c[1].toFixed(1);
  }
  return d + (closed ? "Z" : "");
}
function polyPath(lines, left, top) {
  return lines.map(function (l) {
    return "M" + l.map(function (q) { return xScale(q[0], left).toFixed(1) + " " + yScale(q[1], top).toFixed(1); }).join("L");
  }).join("");
}

// ---------- Panels ----------
const panelsRoot = document.getElementById("panels");
panelTitles.forEach(function (title, idx) {
  const col = idx < 4 ? 0 : 1, row = idx % 4;
  const left = panelLefts[col], top = panelTops[row];
  const g = mk("g", {});
  
  
  const clipId = "clip" + idx;
  const clip = mk("clipPath", { id: clipId });
  clip.appendChild(mk("rect", { x: left, y: top, width: PANEL_W, height: PANEL_H }));
  g.appendChild(clip);

  // field shading as run-length cells
  const ds = levelColors.map(function () { return []; });
  const field = psiFields[idx];
  for (let py = 0; py < PANEL_H; py++) {
    const lat = 30 - (py + 0.5) / DEG;
    let runStart = 0, cur = -1;
    for (let px = 0; px <= 635; px++) {
      const lv = px < 635 ? levelIndex(sampleField(field, -90 + (px + 0.5) / DEG, lat)) : -2;
      if (lv !== cur) {
        if (cur >= 0) ds[cur].push("M" + (left + runStart) + " " + (top + py) + "h" + (px - runStart) + "v1h" + (runStart - px) + "z");
        cur = lv; runStart = px;
      }
    }
  }
  const shade = mk("g", { "clip-path": "url(#" + clipId + ")", "shape-rendering": "crispEdges" });
  
  
  ds.forEach(function (parts, li) {
    if (parts.length) {
      const cell = mk("path", { d: parts.join(""), fill: levelColors[li] });
      
      
      shade.appendChild(cell);
    }
  });
  g.appendChild(shade);

  const inner = mk("g", { "clip-path": "url(#" + clipId + ")", fill: "none" });
  const map = mk("path", { d: polyPath(coastlines.concat(countryBorders), left, top), stroke: "#666", "stroke-width": 1.7, "stroke-linejoin": "round", "stroke-linecap": "round" });
  
  
  inner.appendChild(map);

  const grid = mk("path", {
    d: "M" + left + " " + yScale(0, top) + "H" + (left + PANEL_W) + "M" + xScale(0, left) + " " + yScale(5, top) + "V" + (top + PANEL_H),
    stroke: "#444", "stroke-width": 1.2, "stroke-dasharray": "5 4"
  });
  
  
  inner.appendChild(grid);

  const seriesSets = [[lowContours, "#a020f0", "low"], [erContours, "#ff0000", "er"], [kelvinContours, "#0000ff", "kelvin"], [mjoContours, "#000000", "mjo"]];
  seriesSets.forEach(function (s) {
    s[0][idx].forEach(function (pts) {
      const line = mk("path", { d: splinePath(pts, left, top), stroke: s[1], "stroke-width": 1.9, "stroke-linejoin": "round" });
      
      
      inner.appendChild(line);
    });
  });
  g.appendChild(inner);

  // ticks
  let tick = "";
  for (let lon = -90; lon <= 90; lon += 10) {
    const x = xScale(lon, left);
    const major = lonTickValues.indexOf(lon) >= 0;
    tick += "M" + x + " " + (top + PANEL_H) + "v" + (major ? 5 : 3) + "M" + x + " " + top + "v" + (major ? -5 : -2);
  }
  for (let lat = -10; lat <= 30; lat += 2) {
    const y = yScale(lat, top);
    const len = latTickValues.indexOf(lat) >= 0 ? 5 : 2;
    tick += "M" + left + " " + y + "h" + (-len) + "M" + (left + PANEL_W) + " " + y + "h" + len;
  }
  const ticks = mk("path", { d: tick, stroke: "#000", "stroke-width": 1.4, fill: "none" });
  
  
  g.appendChild(ticks);

  const frame = mk("rect", { x: left, y: top, width: PANEL_W, height: PANEL_H, fill: "none", stroke: "#000", "stroke-width": 2.4 });
  
  
  g.appendChild(frame);

  const t = mk("text", { x: left - 2, y: top - 8, "font-size": 34.7 });
  t.textContent = title;
  
  
  g.appendChild(t);

  if (row === 0) {
    const side = mk("text", { x: left + PANEL_W, y: top - 8, "font-size": 34.7, "text-anchor": "end" });
    side.textContent = col === 0 ? "Observed" : "CFS Forecast";
    
    
    g.appendChild(side);
  }
  latTickValues.forEach(function (lat, i) {
    const lab = mk("text", { x: left - 28, y: yScale(lat, top) + 12, "font-size": 34, "text-anchor": "end" });
    if (col === 0) {
      lab.textContent = latTickLabels[i];
      
      
      g.appendChild(lab);
    }
  });
  if (row === 3) {
    lonTickValues.forEach(function (lon, i) {
      const lab = mk("text", { x: xScale(lon, left) - 1, y: 911, "font-size": 34.3, "text-anchor": "middle" });
      lab.textContent = lonTickLabels[i];
      
      
      g.appendChild(lab);
    });
  }
  panelsRoot.appendChild(g);
});

// ---------- Colorbar ----------
const cbRoot = document.getElementById("colorbar");
const CB_X = 229.5, CB_W = 603.5, CB_Y = 972, CB_H = 22.5;
const cbStep = CB_W / levelColors.length;
levelColors.forEach(function (c, i) {
  const box = mk("rect", { x: CB_X + i * cbStep, y: CB_Y, width: cbStep, height: CB_H, fill: c, stroke: "#111", "stroke-width": 1.4 });
  
  
  cbRoot.appendChild(box);
});
colorLevelLabels.forEach(function (lab, i) {
  const t = mk("text", { x: CB_X + (i + 1) * cbStep + 0.5, y: 1023, "font-size": 29.5, "text-anchor": "middle" });
  t.textContent = lab;
  
  
  cbRoot.appendChild(t);
});
</script>
</body>
</html>
